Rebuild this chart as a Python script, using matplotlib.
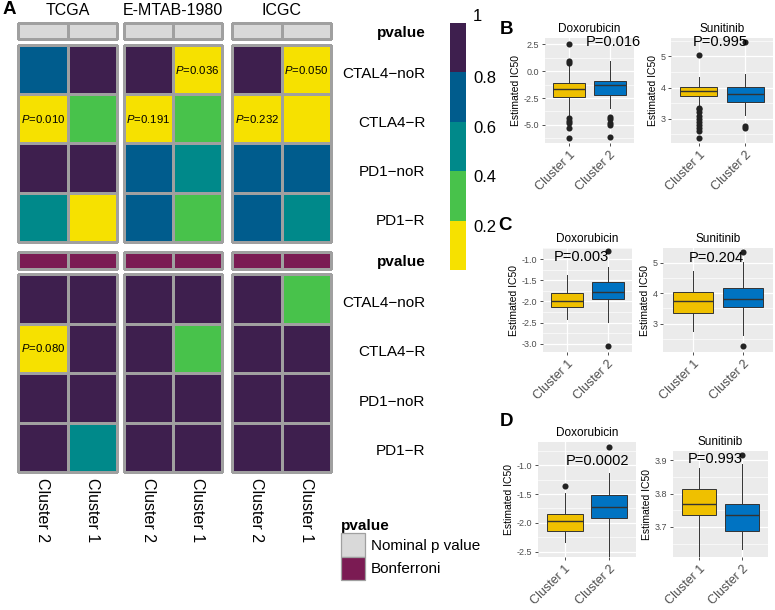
import numpy as np
import matplotlib
matplotlib.use("Agg")
import matplotlib.pyplot as plt
import matplotlib.cm as cm
import matplotlib.transforms as mtransforms
from matplotlib.colors import ListedColormap, BoundaryNorm
from matplotlib.patches import Patch
from matplotlib.ticker import FixedLocator

plt.rcParams['font.family'] = ['Liberation Sans', 'DejaVu Sans']
plt.rcParams['mathtext.fontset'] = 'custom'
plt.rcParams['mathtext.rm'] = 'Liberation Sans'
plt.rcParams['mathtext.it'] = 'Liberation Sans:italic'

W, H = 775, 610

# ---------------- panel A data ----------------
datasets = ["TCGA", "E-MTAB-1980", "ICGC"]
hm_clusters = ["Cluster 2", "Cluster 1"]
signatures = ["CTAL4\u2212noR", "CTLA4\u2212R", "PD1\u2212noR", "PD1\u2212R"]

# colour value of each cell (rows = signatures, cols = Cluster 2, Cluster 1)
nominal_tcga = [[0.7, 0.9], [0.01, 0.3], [0.9, 0.9], [0.5, 0.1]]
nominal_emtab = [[0.9, 0.036], [0.191, 0.3], [0.7, 0.5], [0.7, 0.3]]
nominal_icgc = [[0.9, 0.05], [0.15, 0.1], [0.7, 0.7], [0.7, 0.5]]
bonf_tcga = [[0.9, 0.9], [0.08, 0.9], [0.9, 0.9], [0.9, 0.5]]
bonf_emtab = [[0.9, 0.9], [0.9, 0.3], [0.9, 0.9], [0.9, 0.9]]
bonf_icgc = [[0.9, 0.3], [0.9, 0.9], [0.9, 0.9], [0.9, 0.9]]

# printed p values
nominal_lab_tcga = [["", ""], ["0.010", ""], ["", ""], ["", ""]]
nominal_lab_emtab = [["", "0.036"], ["0.191", ""], ["", ""], ["", ""]]
nominal_lab_icgc = [["", "0.050"], ["0.232", ""], ["", ""], ["", ""]]
bonf_lab_tcga = [["", ""], ["0.080", ""], ["", ""], ["", ""]]
bonf_lab_emtab = [["", ""], ["", ""], ["", ""], ["", ""]]
bonf_lab_icgc = [["", ""], ["", ""], ["", ""], ["", ""]]

cbar_ticks = [0.2, 0.4, 0.6, 0.8, 1]
cbar_labels = ["0.2", "0.4", "0.6", "0.8", "1"]
ptype_labels = ["Nominal p value", "Bonferroni"]

# ---------------- panels B-D data ----------------
box_groups = ["Cluster 1", "Cluster 2"]

b_dox_c1 = dict(q1=-2.44, med=-1.66, q3=-1.09, whislo=-4.06, whishi=0.7,
                fliers=[2.56, 0.94, 0.78, -4.4, -4.6, -4.84, -5.3, -6.25])
b_dox_c2 = dict(q1=-2.25, med=-1.31, q3=-0.88, whislo=-3.44, whishi=1.0,
                fliers=[-4.3, -4.5, -4.8, -5.0, -6.1])
b_sun_c1 = dict(q1=3.74, med=3.9, q3=4.01, whislo=3.42, whishi=4.34,
                fliers=[5.03, 3.35, 3.3, 3.2, 3.1, 3.0, 2.9, 2.8, 2.7, 2.6, 2.37])
b_sun_c2 = dict(q1=3.52, med=3.79, q3=4.01, whislo=3.13, whishi=4.44,
                fliers=[5.45, 2.78, 2.7])
c_dox_c1 = dict(q1=-2.12, med=-1.98, q3=-1.81, whislo=-2.41, whishi=-1.38, fliers=[])
c_dox_c2 = dict(q1=-1.93, med=-1.77, q3=-1.54, whislo=-2.49, whishi=-1.18,
                fliers=[-0.82, -3.06])
c_sun_c1 = dict(q1=3.35, med=3.75, q3=4.03, whislo=2.75, whishi=4.71, fliers=[])
c_sun_c2 = dict(q1=3.54, med=3.81, q3=4.16, whislo=2.64, whishi=5.03,
                fliers=[5.36, 2.26])
d_dox_c1 = dict(q1=-2.14, med=-1.97, q3=-1.84, whislo=-2.33, whishi=-1.48,
                fliers=[-1.36])
d_dox_c2 = dict(q1=-1.92, med=-1.73, q3=-1.52, whislo=-2.6, whishi=-1.14,
                fliers=[-0.69])
d_sun_c1 = dict(q1=3.736, med=3.77, q3=3.813, whislo=3.6, whishi=3.878, fliers=[])
d_sun_c2 = dict(q1=3.687, med=3.737, q3=3.77, whislo=3.635, whishi=3.89,
                fliers=[3.915])

heat_colors = ["#F6E100", "#48C24B", "#00898A", "#005C8D", "#3E1F4E"]
ptype_colors = ["#D9D9D9", "#7B1B53"]
box_colors = ["#EFC000", "#0073C2"]
grid_edge = "#A0A0A0"

fig = plt.figure(figsize=(W / 100, H / 100), dpi=100)


def px_axes(x0, y0, x1, y1):
    return fig.add_axes([x0 / W, 1 - y1 / H, (x1 - x0) / W, (y1 - y0) / H])


cmap = ListedColormap(heat_colors)
norm = BoundaryNorm([0, 0.2, 0.4, 0.6, 0.8, 1.0], cmap.N)
bar_cmap = ListedColormap(ptype_colors)

col_x = [(18, 117), (124, 222), (232, 331)]
blocks = [
    ((23, 39), (45, 242), 0, [nominal_tcga, nominal_emtab, nominal_icgc],
     [nominal_lab_tcga, nominal_lab_emtab, nominal_lab_icgc]),
    ((252, 269), (274, 472), 1, [bonf_tcga, bonf_emtab, bonf_icgc],
     [bonf_lab_tcga, bonf_lab_emtab, bonf_lab_icgc]),
]

for b, (bar_y, hm_y, ptype, mats, labs) in enumerate(blocks):
    for d, (x0, x1) in enumerate(col_x):
        # annotation bar
        axb = px_axes(x0, bar_y[0], x1, bar_y[1])
        axb.pcolormesh(np.full((1, 2), ptype), cmap=bar_cmap, vmin=0, vmax=1,
                       edgecolors=grid_edge, linewidth=0.9, clip_on=False)
        axb.set_xlim(0, 2)
        axb.set_ylim(1, 0)
        axb.set_xticks([])
        for s in axb.spines.values():
            s.set_visible(False)
        if b == 0:
            axb.set_title(datasets[d], fontsize=11.5, pad=6)
        if d == 2:
            axb.yaxis.tick_right()
            axb.set_yticks([0.5])
            axb.set_yticklabels(["pvalue"], fontweight="bold", fontsize=11, ha="right")
            axb.tick_params(axis="y", length=0, pad=68)
        else:
            axb.set_yticks([])

        # heatmap block
        ax = px_axes(x0, hm_y[0], x1, hm_y[1])
        vals = np.array(mats[d])
        ax.pcolormesh(vals, cmap=cmap, norm=norm, edgecolors=grid_edge,
                      linewidth=0.9, clip_on=False)
        for i in range(len(signatures)):
            for j in range(len(hm_clusters)):
                if labs[d][i][j]:
                    ax.text(j + 0.5, i + 0.5, r"$\mathit{P}$=" + labs[d][i][j],
                            ha="center", va="center", fontsize=8.2)
        ax.set_xlim(0, 2)
        ax.set_ylim(len(signatures), 0)
        for s in ax.spines.values():
            s.set_visible(False)
        if d == 2:
            ax.yaxis.tick_right()
            ax.set_yticks(np.arange(len(signatures)) + 0.55)
            ax.set_yticklabels(signatures, fontsize=11, ha="right")
            ax.tick_params(axis="y", length=0, pad=68)
        else:
            ax.set_yticks([])
        if b == 1:
            ax.set_xticks([0.5, 1.5])
            ax.set_xticklabels(hm_clusters, rotation=270, fontsize=11.5, va="top")
            ax.tick_params(axis="x", length=0, pad=4)
        else:
            ax.set_xticks([])

# colour bar
cax = px_axes(450, 23, 466, 270)
cb = fig.colorbar(cm.ScalarMappable(norm=norm, cmap=cmap), cax=cax, ticks=cbar_ticks)
cb.outline.set_visible(False)
cb.set_ticklabels(cbar_labels)
cax.minorticks_off()
cax.tick_params(length=0, labelsize=12, pad=5)
for lab, tv in zip(cax.get_yticklabels(), cbar_ticks):
    dy = 8 / 100 if tv == 1 else -5 / 100
    lab.set_transform(lab.get_transform() +
                      mtransforms.ScaledTranslation(0, dy, fig.dpi_scale_trans))

# p-value type legend
handles = [Patch(facecolor=c, edgecolor=grid_edge, linewidth=0.9) for c in ptype_colors]
fig.legend(handles, ptype_labels, loc="upper left", bbox_to_anchor=(341 / W, 1 - 519 / H),
           frameon=False, fontsize=11, title="pvalue",
           title_fontproperties={"weight": "bold", "size": 11}, alignment="left",
           handlelength=1.6, handleheight=2.0, labelspacing=0.0, handletextpad=0.35,
           borderpad=0, borderaxespad=0)


# ---------------- boxplots ----------------
def box_panel(rect, stats, title, ylim, yticks, ylabels, ptext, pxy):
    ax = px_axes(*rect)
    ax.set_facecolor("#EBEBEB")
    for s in ax.spines.values():
        s.set_visible(False)
    bp = ax.bxp(stats, positions=[1, 2], widths=0.8, patch_artist=True, showcaps=False,
                boxprops=dict(edgecolor="#333333", linewidth=0.7),
                whiskerprops=dict(color="#333333", linewidth=0.7),
                medianprops=dict(color="#333333", linewidth=1.0),
                flierprops=dict(marker="o", markerfacecolor="#222222",
                                markeredgecolor="none", markersize=4.4))
    for patch, c in zip(bp["boxes"], box_colors):
        patch.set_facecolor(c)
    ax.set_xlim(0.4, 2.6)
    ax.set_ylim(*ylim)
    ax.yaxis.set_major_locator(FixedLocator(yticks))
    ax.set_yticklabels(ylabels)
    step = yticks[1] - yticks[0]
    minors = [yticks[0] - step / 2] + [t + step / 2 for t in yticks]
    ax.yaxis.set_minor_locator(FixedLocator(minors))
    ax.set_xticks([1, 2])
    ax.set_xticklabels(box_groups, rotation=45, ha="right", rotation_mode="anchor",
                       fontsize=9, color="#4D4D4D")
    ax.grid(which="major", color="white", linewidth=0.9)
    ax.grid(which="minor", axis="y", color="white", linewidth=0.45)
    ax.set_axisbelow(True)
    ax.tick_params(axis="both", which="major", length=2.5, width=0.6, color="#333333")
    ax.tick_params(axis="y", labelsize=6.5, labelcolor="#4D4D4D", pad=1.5)
    ax.tick_params(axis="x", pad=2)
    ax.tick_params(which="minor", length=0)
    ax.set_title(title, fontsize=8.5, pad=4)
    ax.set_ylabel("Estimated IC50", fontsize=7.5, labelpad=2)
    ax.text(pxy[0], pxy[1], ptext, ha="center", va="center", fontsize=10.5)
    return ax


box_panel((545, 38, 634, 143), [b_dox_c1, b_dox_c2], "Doxorubicin", (-6.7, 3.1),
          [-5.0, -2.5, 0.0, 2.5], ["-5.0", "-2.5", "0.0", "2.5"], "P=0.016", (2.1, 2.75))
box_panel((671, 38, 773, 143), [b_sun_c1, b_sun_c2], "Sunitinib", (2.22, 5.59),
          [3, 4, 5], ["3", "4", "5"], "P=0.995", (1.46, 5.45))
box_panel((543, 248, 632, 352), [c_dox_c1, c_dox_c2], "Doxorubicin", (-3.19, -0.74),
          [-3.0, -2.5, -2.0, -1.5, -1.0], ["-3.0", "-2.5", "-2.0", "-1.5", "-1.0"],
          "P=0.003", (1.34, -0.95))
box_panel((663, 248, 773, 352), [c_sun_c1, c_sun_c2], "Sunitinib", (2.07, 5.48),
          [3, 4, 5], ["3", "4", "5"], "P=0.204", (1.46, 5.15))
box_panel((538, 442, 636, 557), [d_dox_c1, d_dox_c2], "Doxorubicin", (-2.59, -0.6),
          [-2.5, -2.0, -1.5, -1.0], ["-2.5", "-2.0", "-1.5", "-1.0"],
          "P=0.0002", (1.73, -0.93))
box_panel((673, 451, 768, 557), [d_sun_c1, d_sun_c2], "Sunitinib", (3.61, 3.928),
          [3.7, 3.8, 3.9], ["3.7", "3.8", "3.9"], "P=0.993", (1.37, 3.905))

# panel letters
for letter, (x, y) in zip("ABCD", [(3, 10), (500, 29), (498, 225), (500, 421)]):
    fig.text(x / W, 1 - y / H, letter, fontsize=13.5, fontweight="bold", va="center")

fig.savefig("out.png", dpi=100)
